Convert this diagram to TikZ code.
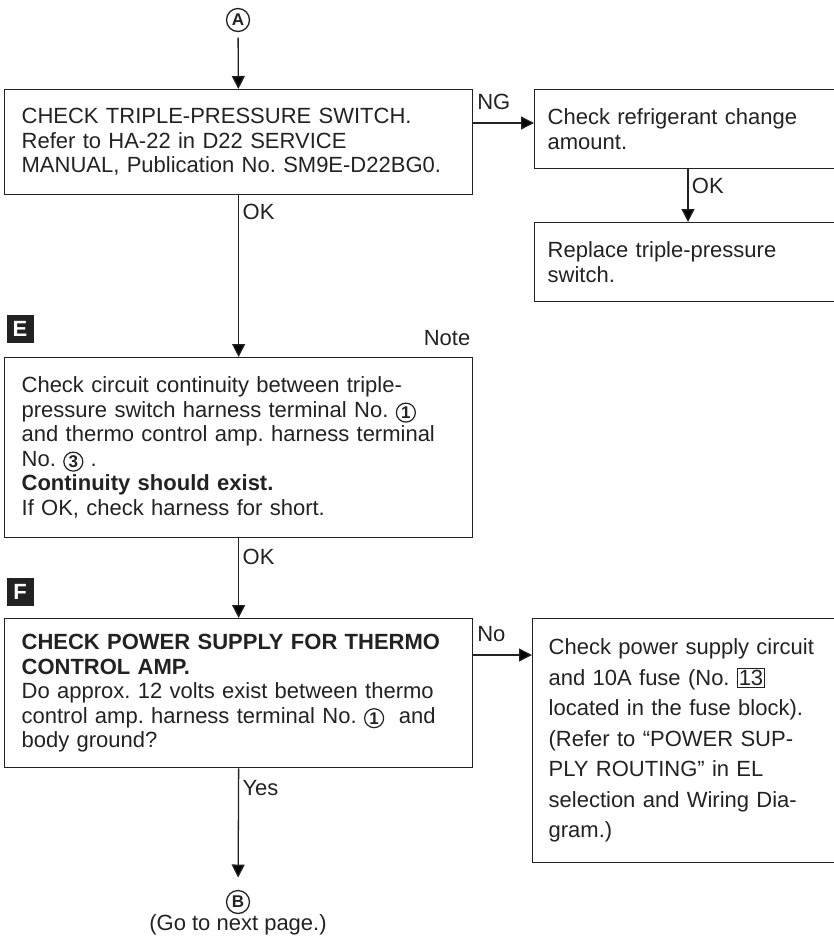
\documentclass[tikz,border=0pt]{standalone}
\usepackage{fontspec}
\setmainfont{Liberation Sans}
\usepackage{xcolor}
\usetikzlibrary{arrows.meta,positioning,calc}
\definecolor{inkGray}{HTML}{222222}

\newcommand{\cnum}[1]{\tikz[baseline={([yshift=1pt]n.base)}]\node[shape=circle, draw=inkGray, line width=1.2pt, inner sep=1.2pt, outer sep=0pt, anchor=center, text width={}, align=center, minimum width=0pt, minimum height=19pt, text=inkGray, font=\fontsize{17}{17}\selectfont\bfseries] (n) {#1};}
\newcommand{\fuseno}[1]{{\setlength{\fboxsep}{1pt}\setlength{\fboxrule}{0.8pt}\fbox{#1}}}

\begin{document}
\frenchspacing
\begin{tikzpicture}[x=1pt, y=-1pt,
    stepbox/.style={rectangle, draw=inkGray, line width=1.3pt, align=left, anchor=north west, text=inkGray, font=\fontsize{22}{24.5}\selectfont},
    mainbox/.style={stepbox, inner xsep=17pt, text width=434pt, minimum width=468pt},
    sidebox/.style={stepbox, inner xsep=13pt, text width=292pt, minimum width=318pt},
    tagbox/.style={rectangle, fill=inkGray, text=white, inner sep=0pt, minimum width=27pt, minimum height=28pt, font=\fontsize{22}{22}\selectfont\bfseries},
    circ/.style={circle, draw=inkGray, line width=1.3pt, inner sep=0pt, minimum size=23pt, outer sep=6pt, text=inkGray, font=\fontsize{17}{17}\selectfont\bfseries},
    lbl/.style={text=inkGray, font=\fontsize{22}{22}\selectfont},
    line/.style={draw=inkGray, line width=1.3pt, -{Triangle[length=13pt,width=13pt]}}
]
\useasboundingbox (0,0) rectangle (833,940);

% Nodes
\node[circ] (ptA) at (238,20) {A};
\node[mainbox, minimum height=105pt] (tps) at (4,89) {CHECK TRIPLE-PRESSURE SWITCH.\\Refer to HA-22 in D22 SERVICE\\MANUAL, Publication No. SM9E-D22BG0.};
\node[sidebox, minimum height=79pt] (refrig) at (534,89) {Check refrigerant change\\amount.};
\node[sidebox, minimum height=79pt] (replace) at (534,222) {Replace triple-pressure\\switch.};

\node[tagbox] (tagE) at (20,329) {E};
\node[lbl] (note) at (447,338) {Note};
\node[mainbox, minimum height=180pt] (cont) at (4,357) {Check circuit continuity between triple-\\pressure switch harness terminal No. \cnum{1}\\and thermo control amp. harness terminal\\No. \cnum{3} .\\\textbf{Continuity should exist.}\\If OK, check harness for short.};

\node[tagbox] (tagF) at (20,592) {F};
\node[mainbox, minimum height=149pt] (power) at (4,618) {\textbf{CHECK POWER SUPPLY FOR THERMO}\\\textbf{CONTROL AMP.}\\Do approx. 12 volts exist between thermo\\control amp. harness terminal No. \cnum{1}\ \ and\\body ground?};
\node[sidebox, inner xsep=16pt, text width=286pt, minimum height=244pt, font=\fontsize{22}{30.5}\selectfont] (supply) at (532,618) {Check power supply circuit\\and 10A fuse (No. \fuseno{13}\\located in the fuse block).\\(Refer to “POWER SUP-\\PLY ROUTING” in EL\\selection and Wiring Dia-\\gram.)};

\node[circ] (ptB) at (238,902) {B};
\node[lbl, below=-8pt of ptB] (nextpg) {(Go to next page.)};

% Connections
\draw[line] (ptA) -- (tps);
\draw[line] ([yshift=-34pt]tps.north east) -- node[lbl, pos=0, above right, yshift=9pt] {NG} ([yshift=-34pt]refrig.north west);
\draw[line] ([xshift=154pt]refrig.south west) -- node[lbl, right, pos=0.32] {OK} ([xshift=154pt]replace.north west);
\draw[line] (tps.south) -- node[lbl, right, pos=0.1] {OK} (cont.north);
\draw[line] (cont.south) -- node[lbl, right, pos=0.23] {OK} (power.north);
\draw[line] ([yshift=-37pt]power.north east) -- node[lbl, pos=0, above right, yshift=9pt] {No} ([yshift=-37pt]supply.north west);
\draw[line, shorten >=7pt] (power.south) -- node[lbl, right, pos=0.17] {Yes} (ptB);

\end{tikzpicture}
\end{document}
